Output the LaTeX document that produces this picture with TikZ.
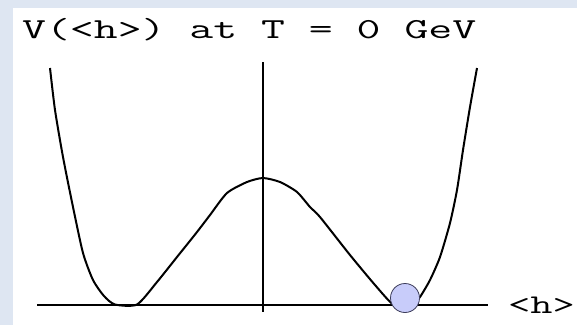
\documentclass[tikz,border=0pt]{standalone}
\usepackage{fontspec}
\usepackage{graphicx}
\definecolor{frameblue}{RGB}{222,230,242}
\definecolor{ballfill}{RGB}{200,204,250}
\definecolor{balledge}{RGB}{60,60,90}
\newcommand{\pixtext}[2]{\scalebox{1.6}[1]{\ttfamily\fontsize{#1}{#1}\selectfont #2}}
\tikzset{
  axisline/.style={line width=2pt, black},
  potline/.style={line width=2pt, black, line join=round},
  labeltext/.style={inner sep=0pt, anchor=base west},
}
\begin{document}
\begin{tikzpicture}[x=1pt,y=-1pt]
\useasboundingbox (0,0) rectangle (577,325);
\fill[frameblue] (0,0) rectangle (577,325);
\fill[white] (13,8) rectangle (577,325);
% axes
\coordinate (hl) at (37,305);
\coordinate (hr) at (488,305);
\coordinate (vt) at (263,62);
\coordinate (vb) at (263,312);
\draw[axisline] (hl) -- (hr);
\draw[axisline] (vt) -- (vb);
% potential
\draw[potline] plot[smooth, tension=0.4] coordinates {
 (50,68) (55,110) (63,157) (73,207) (83,253) (93,280) (104,296) (115,304.5)
 (137,304.5) (157,282) (177,257) (197,232) (210,215) (227,193)
 (247,182) (263,178) (280,182) (297,192) (310,207) (320,217) (350,255)
 (375,285) (393,304.5) (405,305) (415,302) (420,297) (430,280) (440,257)
 (450,223) (457,190) (463,150) (470,107) (477,68)};
% ball
\node[circle, draw=balledge, line width=0.8pt, fill=ballfill, minimum size=29pt, inner sep=0pt] (ball) at (405,298) {};
% labels
\node[labeltext] (title) at (22,38) {\pixtext{29}{V(<h>) at T = 0 GeV}};
\node[labeltext] (hlabel) at (508,313) {\pixtext{27}{<h>}};
\end{tikzpicture}
\end{document}
